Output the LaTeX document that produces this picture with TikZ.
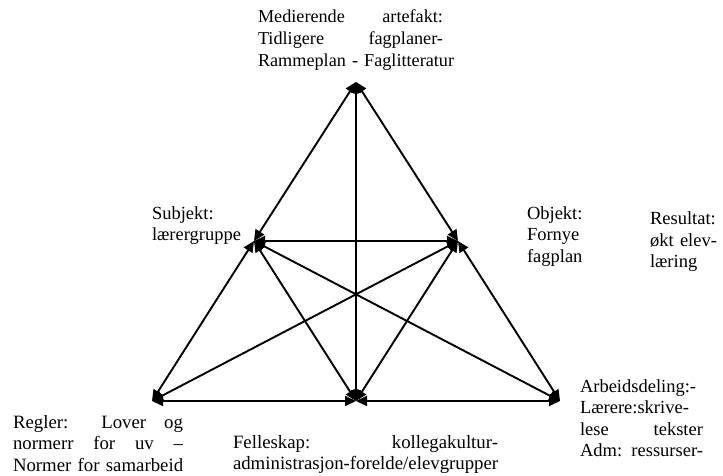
\documentclass[tikz,border=0pt]{standalone}
\usepackage{fontspec}
\setmainfont{Liberation Serif}
\usetikzlibrary{arrows.meta}
% a line stretched to a given width (justified); the node's fixed
% inter-word spaces are reset so that they can stretch again
\newcommand{\jl}[2]{\makebox[#1][s]{\spaceskip=0pt\xspaceskip=0pt #2}}
\begin{document}
\begin{tikzpicture}[x=1pt,y=-1pt,
  tip/.tip={Triangle[length=11pt,width=10pt]},
  conn/.style={line width=1.9pt, tip-tip},
  lbl/.style={anchor=base west, inner sep=0pt, outer sep=0pt, align=left,
    text width=300pt, font=\fontsize{18.5}{21.5}\selectfont}]
\useasboundingbox (0,0) rectangle (723,476);

% corners of the activity system
\coordinate (T) at (356,82);
\coordinate (S) at (254,241);
\coordinate (O) at (458,241);
\coordinate (R) at (152,401);
\coordinate (C) at (356,401);
\coordinate (D) at (560,401);

% connectors
\draw[conn] (T) -- (S);
\draw[conn] (T) -- (O);
\draw[conn] (T) -- (C);
\draw[conn] (S) -- (O);
\draw[conn] (S) -- (R);
\draw[conn] (S) -- (C);
\draw[conn] (S) -- (D);
\draw[conn] (O) -- (D);
\draw[conn] (O) -- (C);
\draw[conn] (O) -- (R);
\draw[conn] (R) -- (C);
\draw[conn] (C) -- (D);

% labels
\begin{scope}
  \clip (0,0) rectangle (723,71.5);
  \node[lbl, font=\fontsize{18.2}{22}\selectfont] (med) at (258,23)
    {\jl{185pt}{Medierende artefakt:}\\\jl{185pt}{Tidligere fagplaner-}\\Rammeplan - Faglitteratur};
\end{scope}

\node[lbl] (subj) at (152,219) {Subjekt:\\lærergruppe};
\node[lbl] (obj) at (527,219) {Objekt:\\Fornye\\fagplan};
\node[lbl, text width=70pt] (res) at (650,224.5)
  {Resultat:\\\jl{67pt}{økt elev-}\\læring};
\node[lbl, font=\fontsize{18.8}{21.5}\selectfont] (regl) at (13,428)
  {\jl{170pt}{Regler: Lover og}\\\jl{170pt}{normerr for uv –}\\Normer for samarbeid};
\node[lbl, font=\fontsize{18.8}{21.5}\selectfont] (fell) at (233,448)
  {\jl{265pt}{Felleskap: kollegakultur-}\\administrasjon-forelde/elevgrupper};
\node[lbl, text width=140pt] (arb) at (580,392)
  {Arbeidsdeling:-\\Lærere:skrive-\\\jl{123pt}{lese tekster}\\\jl{123pt}{Adm: ressurser-}};
\end{tikzpicture}
\end{document}
